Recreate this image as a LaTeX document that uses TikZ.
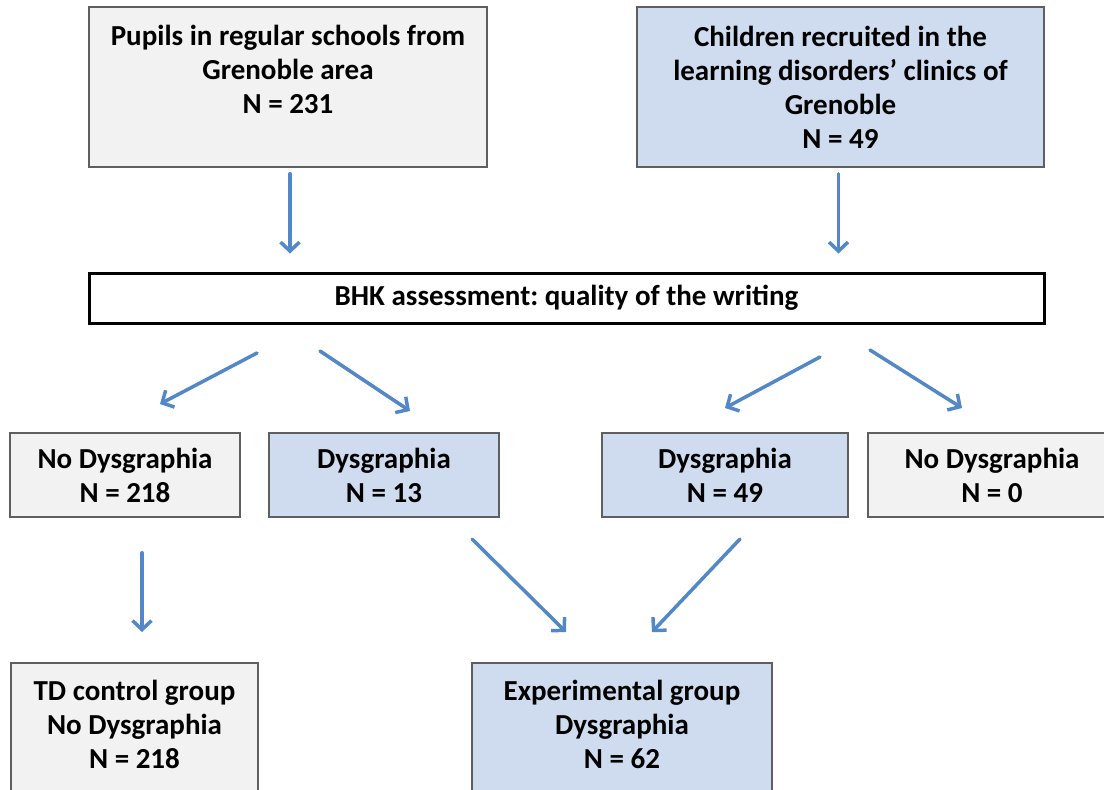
\documentclass[tikz,border=0pt]{standalone}
\usepackage{fontspec}
\setmainfont{Carlito}
\frenchspacing
\usetikzlibrary{arrows.meta}
\definecolor{grayfill}{RGB}{242,242,242}
\definecolor{bluefill}{RGB}{207,220,240}
\definecolor{boxline}{RGB}{95,95,95}
\definecolor{arrowblue}{RGB}{82,136,200}
\tikzset{
  basebox/.style={draw=boxline, line width=1.5pt, align=center, inner sep=0pt,
    font=\fontsize{29}{34}\selectfont\bfseries},
  graybox/.style={basebox, fill=grayfill},
  bluebox/.style={basebox, fill=bluefill},
  arr/.style={draw=arrowblue, line width=3.5pt, line cap=round,
    -{Straight Barb[length=9pt,width=19pt,line width=3.5pt]}},
}
\begin{document}
\begin{tikzpicture}[x=1pt,y=-1pt]
\useasboundingbox (0,0) rectangle (1104,790);
\clip (0,0) rectangle (1104,790);
% top row
\node[graybox, minimum width=398, minimum height=160] (b1) at (288,87)
  {Pupils in regular schools from\\Grenoble area\\N = 231\rule[-36pt]{0pt}{0pt}};
\node[bluebox, minimum width=407, minimum height=160] (b2) at (840.5,87)
  {Children recruited in the\\learning disorders’ clinics of\\Grenoble\\N = 49};
% assessment
\node[basebox, draw=black, fill=white, line width=3pt, minimum width=955, minimum height=50] (bhk) at (566.5,298)
  {BHK assessment: quality of the writing};
% third row
\node[graybox, minimum width=230, minimum height=84] (n1) at (125,475) {No Dysgraphia\\N = 218};
\node[bluebox, minimum width=230, minimum height=84] (d1) at (384,475) {Dysgraphia\\N = 13};
\node[bluebox, minimum width=246, minimum height=84] (d2) at (725,475) {Dysgraphia\\N = 49};
\node[graybox, minimum width=248, minimum height=84] (n2) at (992,475) {No Dysgraphia\\N = 0};
% bottom row
\node[graybox, minimum width=247, minimum height=160, anchor=north] (td) at (134.5,662)
  {TD control group\\No Dysgraphia\\N = 218\rule[-36pt]{0pt}{0pt}};
\node[bluebox, minimum width=300, minimum height=160, anchor=north] (ex) at (622,662)
  {Experimental group\\Dysgraphia\\N = 62\rule[-36pt]{0pt}{0pt}};
% arrows
\draw[arr, shorten <=6pt, shorten >=18pt] ([xshift=2pt]b1.south) -- ([xshift=2pt]b1.south |- bhk.north);
\draw[arr, shorten <=6pt, shorten >=18pt] ([xshift=-2pt]b2.south) -- ([xshift=-2pt]b2.south |- bhk.north);
\coordinate (a1s) at (257,353); \coordinate (a1e) at (160,404);
\coordinate (a2s) at (320,351); \coordinate (a2e) at (410,411);
\coordinate (a3s) at (820,357); \coordinate (a3e) at (725,408);
\coordinate (a4s) at (870,350); \coordinate (a4e) at (962,408);
\draw[arr] (a1s) -- (a1e);
\draw[arr] (a2s) -- (a2e);
\draw[arr] (a3s) -- (a3e);
\draw[arr] (a4s) -- (a4e);
\draw[arr, shorten <=35pt, shorten >=30pt] ([xshift=17pt]n1.south) -- ([xshift=17pt]n1.south |- td.north);
\coordinate (a5s) at (472,539); \coordinate (a5e) at (566,632);
\coordinate (a6s) at (740,539); \coordinate (a6e) at (652,632);
\draw[arr] (a5s) -- (a5e);
\draw[arr] (a6s) -- (a6e);
\end{tikzpicture}
\end{document}
